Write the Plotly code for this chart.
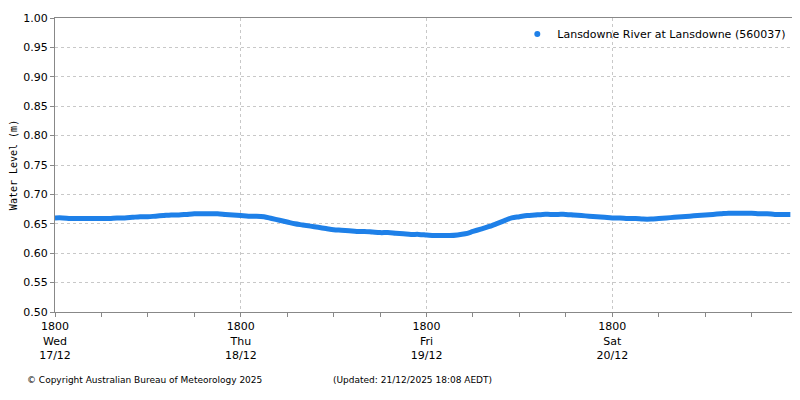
import pandas as pd
import plotly.graph_objects as go

start = pd.Timestamp("2025-12-17 18:00")
levels = [
    0.660, 0.660, 0.659, 0.659, 0.659, 0.659,
    0.659, 0.659, 0.660, 0.660, 0.661, 0.662,
    0.662, 0.663, 0.664, 0.665, 0.665, 0.666,
    0.667, 0.667, 0.667, 0.667, 0.666, 0.665,
    0.664, 0.663, 0.663, 0.662, 0.659, 0.656,
    0.653, 0.650, 0.648, 0.646, 0.644, 0.642,
    0.640, 0.639, 0.638, 0.637, 0.637, 0.636,
    0.635, 0.635, 0.634, 0.633, 0.632, 0.632,
    0.631, 0.630, 0.630, 0.630, 0.631, 0.633,
    0.637, 0.641, 0.645, 0.650, 0.655, 0.660,
    0.662, 0.664, 0.665, 0.666, 0.666, 0.666,
    0.666, 0.665, 0.664, 0.663, 0.662, 0.661,
    0.660, 0.660, 0.659, 0.659, 0.658, 0.658,
    0.659, 0.660, 0.661, 0.662, 0.663, 0.664,
    0.665, 0.666, 0.667, 0.668, 0.668, 0.668,
    0.668, 0.667, 0.667, 0.666, 0.666, 0.666,
]
times = pd.date_range(start, periods=len(levels), freq="h")
tick_days = ["Wed<br>17/12", "Thu<br>18/12", "Fri<br>19/12", "Sat<br>20/12"]
tick_times = pd.date_range(start, periods=4, freq="D")
station = "Lansdowne River at Lansdowne (560037)"

blue = "#1e80e8"
fig = go.Figure()
fig.add_trace(go.Scatter(x=times, y=levels, mode="lines", line=dict(color=blue, width=5, shape="spline"),
                         showlegend=False))
fig.add_trace(go.Scatter(x=[None], y=[None], mode="markers", name=station,
                         marker=dict(color=blue, size=6)))

grid = dict(showgrid=True, gridcolor="#c8c8c8", griddash="dot", showline=True,
            linecolor="#888888", mirror=True, zeroline=False, ticks="outside",
            tickcolor="#888888", ticklen=4, automargin=False)
fig.update_xaxes(range=[start, start + pd.Timedelta(hours=95.6)],
                 tickvals=tick_times, ticktext=["1800<br>" + d for d in tick_days],
                 minor=dict(dtick=6 * 3600 * 1000, ticks="outside", ticklen=4,
                            tickcolor="#888888", showgrid=False), **grid)
fig.update_yaxes(range=[0.5, 1.0], dtick=0.05, tickformat=".2f",
                 title=dict(text="Water Level (m)", standoff=6,
                            font=dict(family="DejaVu Sans Mono", size=10)),
                 **grid)
fig.update_layout(
    width=800, height=400, margin=dict(l=47, r=13, t=10, b=96),
    plot_bgcolor="white", paper_bgcolor="white",
    font=dict(family="DejaVu Sans", size=11, color="#000"),
    legend=dict(x=0.995, y=0.995, xanchor="right", yanchor="top", bgcolor="rgba(0,0,0,0)",
                font=dict(size=11)),
    annotations=[
        dict(text="© Copyright Australian Bureau of Meteorology 2025", x=-0.04, y=-0.23,
             xref="paper", yref="paper", xanchor="left", yanchor="middle",
             showarrow=False, font=dict(size=9)),
        dict(text="(Updated: 21/12/2025 18:08 AEDT)", x=0.373, y=-0.23,
             xref="paper", yref="paper", xanchor="left", yanchor="middle",
             showarrow=False, font=dict(size=9)),
    ],
)
fig.write_html("out.html")
